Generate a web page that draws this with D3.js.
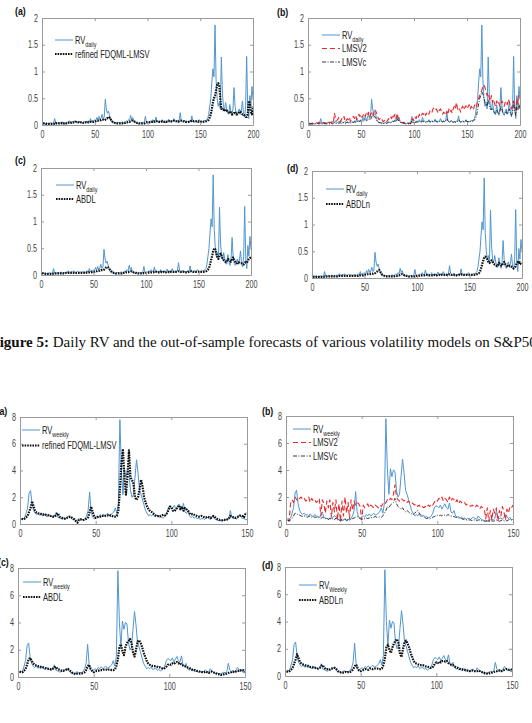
<!DOCTYPE html>
<html lang="en">
<head>
  <meta charset="UTF-8">
  <title>Daily and weekly RV forecasts</title>
  <script src="https://d3js.org/d3.v7.min.js"></script>
  <style>
    body { margin: 0; background: #fff; }
    svg { display: block; }
    .tick text { font-family: "Liberation Sans", Arial, sans-serif; font-size: 10px; fill: #444; }
    .legend text { font-family: "Liberation Sans", Arial, sans-serif; font-size: 10.5px; fill: #222; }
    .plabel { font-family: "Liberation Sans", Arial, sans-serif; font-size: 11px; font-weight: bold; fill: #111; }
  </style>
</head>
<body>
<script>
// ---- daily data (200 out-of-sample days) ----
const rvDaily = [
  0.04,0.03,0.03,0.04,0.03,0.02,0.03,0.04,0.03,0.03,
  0.04,0.12,0.03,0.02,0.04,0.05,0.03,0.04,0.06,0.03,
  0.04,0.05,0.03,0.06,0.04,0.08,0.05,0.04,0.07,0.05,
  0.08,0.06,0.04,0.05,0.07,0.04,0.06,0.05,0.04,0.07,
  0.05,0.06,0.04,0.08,0.05,0.12,0.06,0.09,0.07,0.1,
  0.08,0.14,0.09,0.16,0.1,0.13,0.2,0.12,0.15,0.48,
  0.3,0.22,0.26,0.18,0.1,0.06,0.04,0.05,0.03,0.04,
  0.03,0.04,0.05,0.03,0.04,0.06,0.05,0.04,0.06,0.08,
  0.06,0.1,0.08,0.18,0.1,0.14,0.06,0.04,0.05,0.03,
  0.04,0.03,0.03,0.05,0.04,0.03,0.06,0.16,0.05,0.04,
  0.06,0.05,0.08,0.06,0.1,0.07,0.05,0.15,0.06,0.08,
  0.05,0.07,0.06,0.1,0.05,0.06,0.08,0.05,0.07,0.11,
  0.06,0.05,0.08,0.06,0.12,0.07,0.05,0.08,0.06,0.09,
  0.23,0.08,0.06,0.05,0.09,0.06,0.05,0.07,0.05,0.08,
  0.06,0.17,0.07,0.05,0.06,0.08,0.05,0.06,0.1,0.07,
  0.05,0.07,0.06,0.09,0.07,0.1,0.12,0.2,0.35,0.5,
  0.8,1.05,0.9,1.87,0.85,0.5,0.35,0.42,0.3,1.27,
  0.6,0.35,0.28,0.42,0.3,0.22,0.2,0.38,0.25,0.18,
  0.3,0.7,0.35,0.22,0.18,0.25,0.3,0.2,0.28,0.45,
  0.22,0.15,0.35,1.28,0.3,0.12,0.55,0.35,0.72,0.5
];
const fdqmlDaily = [
  0.03,0.03,0.03,0.02,0.02,0.02,0.02,0.02,0.02,0.02,
  0.02,0.03,0.04,0.03,0.03,0.03,0.03,0.03,0.04,0.03,
  0.03,0.04,0.03,0.04,0.04,0.05,0.05,0.04,0.05,0.05,
  0.05,0.06,0.05,0.05,0.05,0.04,0.05,0.05,0.04,0.05,
  0.05,0.05,0.04,0.05,0.05,0.06,0.06,0.06,0.06,0.07,
  0.07,0.08,0.08,0.09,0.09,0.09,0.1,0.1,0.09,0.1,
  0.12,0.13,0.12,0.14,0.11,0.08,0.06,0.05,0.04,0.03,
  0.03,0.03,0.03,0.03,0.03,0.03,0.04,0.04,0.04,0.05,
  0.05,0.06,0.06,0.07,0.08,0.08,0.07,0.06,0.05,0.04,
  0.04,0.03,0.03,0.03,0.03,0.03,0.03,0.04,0.05,0.05,
  0.05,0.05,0.06,0.06,0.06,0.07,0.06,0.07,0.07,0.07,
  0.06,0.06,0.06,0.07,0.06,0.06,0.07,0.06,0.06,0.07,
  0.07,0.06,0.07,0.07,0.08,0.07,0.07,0.07,0.06,0.07,
  0.08,0.08,0.07,0.07,0.07,0.06,0.06,0.06,0.06,0.06,
  0.07,0.08,0.08,0.07,0.07,0.07,0.06,0.06,0.07,0.07,
  0.06,0.06,0.06,0.07,0.07,0.07,0.08,0.1,0.14,0.2,
  0.3,0.42,0.5,0.55,0.65,0.75,0.78,0.75,0.5,0.3,
  0.3,0.28,0.3,0.26,0.27,0.25,0.24,0.22,0.24,0.2,
  0.2,0.22,0.25,0.2,0.2,0.22,0.24,0.25,0.22,0.2,
  0.2,0.18,0.15,0.15,0.2,0.45,0.4,0.25,0.2,0.35
];
const lmsv2Daily = [
  0.02,0.02,0.03,0.02,0.03,0.02,0.03,0.04,0.03,0.05,
  0.04,0.06,0.03,0.04,0.05,0.03,0.04,0.06,0.04,0.05,
  0.05,0.04,0.08,0.05,0.22,0.12,0.08,0.1,0.14,0.06,
  0.08,0.12,0.1,0.16,0.06,0.08,0.12,0.1,0.15,0.07,
  0.1,0.14,0.16,0.12,0.18,0.1,0.15,0.2,0.16,0.2,
  0.14,0.18,0.22,0.16,0.22,0.18,0.24,0.15,0.2,0.22,
  0.26,0.18,0.28,0.26,0.2,0.14,0.1,0.12,0.08,0.1,
  0.06,0.08,0.1,0.06,0.08,0.12,0.1,0.15,0.12,0.2,
  0.15,0.2,0.12,0.22,0.14,0.1,0.06,0.05,0.04,0.05,
  0.04,0.03,0.02,0.03,0.02,0.04,0.02,0.1,0.12,0.08,
  0.15,0.12,0.18,0.14,0.2,0.15,0.18,0.22,0.2,0.24,
  0.18,0.22,0.25,0.2,0.26,0.28,0.24,0.3,0.32,0.28,
  0.3,0.26,0.22,0.28,0.3,0.25,0.2,0.24,0.22,0.18,
  0.26,0.2,0.3,0.24,0.28,0.22,0.3,0.35,0.3,0.42,
  0.32,0.26,0.3,0.24,0.32,0.35,0.28,0.33,0.36,0.3,
  0.34,0.38,0.3,0.35,0.32,0.28,0.36,0.4,0.35,0.45,
  0.5,0.55,0.6,0.65,0.72,0.75,0.7,0.62,0.55,0.6,
  0.5,0.45,0.55,0.42,0.48,0.4,0.35,0.45,0.38,0.42,
  0.35,0.4,0.45,0.4,0.35,0.42,0.45,0.38,0.48,0.42,
  0.35,0.3,0.4,0.45,0.35,0.28,0.5,0.4,0.55,0.5
];
const lmsvcDaily = [
  0.02,0.02,0.02,0.02,0.02,0.02,0.02,0.02,0.03,0.02,
  0.02,0.04,0.02,0.02,0.02,0.03,0.02,0.02,0.03,0.02,
  0.02,0.03,0.02,0.03,0.05,0.03,0.03,0.04,0.03,0.04,
  0.04,0.03,0.04,0.05,0.03,0.04,0.05,0.04,0.05,0.04,
  0.04,0.05,0.05,0.06,0.05,0.07,0.05,0.06,0.07,0.08,
  0.06,0.08,0.07,0.1,0.08,0.09,0.12,0.1,0.1,0.14,
  0.2,0.15,0.16,0.12,0.08,0.06,0.05,0.04,0.04,0.03,
  0.03,0.03,0.04,0.03,0.04,0.05,0.05,0.04,0.06,0.07,
  0.06,0.08,0.06,0.12,0.08,0.09,0.06,0.04,0.04,0.03,
  0.03,0.02,0.02,0.03,0.03,0.02,0.03,0.08,0.04,0.04,
  0.05,0.05,0.06,0.05,0.07,0.06,0.05,0.08,0.06,0.07,
  0.05,0.06,0.06,0.08,0.06,0.06,0.07,0.06,0.07,0.08,
  0.07,0.06,0.07,0.06,0.08,0.07,0.06,0.07,0.06,0.08,
  0.12,0.08,0.06,0.05,0.07,0.06,0.05,0.06,0.05,0.06,
  0.06,0.1,0.07,0.06,0.06,0.07,0.06,0.07,0.08,0.07,
  0.06,0.07,0.06,0.08,0.07,0.08,0.09,0.12,0.18,0.28,
  0.4,0.5,0.55,0.62,0.58,0.5,0.42,0.4,0.35,0.48,
  0.38,0.3,0.28,0.32,0.26,0.22,0.2,0.28,0.24,0.2,
  0.24,0.35,0.28,0.22,0.2,0.22,0.25,0.2,0.24,0.3,
  0.22,0.18,0.24,0.42,0.28,0.18,0.35,0.28,0.4,0.3
];
const abdlDaily = [
  0.03,0.03,0.02,0.02,0.02,0.02,0.02,0.02,0.02,0.02,
  0.02,0.03,0.03,0.03,0.03,0.03,0.03,0.03,0.03,0.03,
  0.03,0.03,0.03,0.04,0.04,0.04,0.04,0.04,0.04,0.04,
  0.04,0.04,0.04,0.04,0.04,0.04,0.04,0.04,0.04,0.04,
  0.04,0.04,0.04,0.05,0.05,0.05,0.05,0.05,0.06,0.06,
  0.06,0.07,0.07,0.08,0.08,0.08,0.09,0.09,0.09,0.1,
  0.12,0.14,0.15,0.14,0.12,0.09,0.07,0.05,0.04,0.04,
  0.03,0.03,0.03,0.03,0.03,0.03,0.03,0.04,0.04,0.04,
  0.05,0.05,0.05,0.06,0.06,0.07,0.06,0.05,0.05,0.04,
  0.04,0.03,0.03,0.03,0.03,0.03,0.03,0.04,0.04,0.04,
  0.04,0.04,0.05,0.05,0.05,0.05,0.05,0.06,0.06,0.06,
  0.05,0.05,0.05,0.06,0.05,0.05,0.06,0.05,0.05,0.06,
  0.06,0.05,0.06,0.06,0.06,0.06,0.06,0.06,0.06,0.06,
  0.07,0.07,0.06,0.06,0.06,0.06,0.05,0.05,0.05,0.06,
  0.06,0.07,0.07,0.06,0.06,0.06,0.06,0.06,0.06,0.06,
  0.06,0.06,0.06,0.06,0.06,0.07,0.07,0.08,0.1,0.13,
  0.2,0.28,0.36,0.45,0.5,0.48,0.4,0.33,0.3,0.36,
  0.4,0.36,0.3,0.28,0.26,0.24,0.25,0.3,0.28,0.26,
  0.25,0.3,0.33,0.28,0.25,0.22,0.22,0.24,0.23,0.22,
  0.22,0.2,0.2,0.23,0.24,0.23,0.26,0.3,0.32,0.32
];
const abdlnDaily = [
  0.03,0.02,0.02,0.02,0.02,0.02,0.02,0.02,0.02,0.02,
  0.02,0.03,0.03,0.03,0.03,0.03,0.03,0.03,0.03,0.03,
  0.03,0.03,0.03,0.03,0.04,0.04,0.04,0.04,0.04,0.04,
  0.04,0.04,0.04,0.04,0.04,0.04,0.04,0.04,0.04,0.04,
  0.04,0.04,0.04,0.04,0.05,0.05,0.05,0.05,0.05,0.06,
  0.06,0.06,0.07,0.07,0.07,0.08,0.08,0.08,0.09,0.09,
  0.11,0.12,0.14,0.15,0.12,0.09,0.06,0.05,0.04,0.03,
  0.03,0.03,0.03,0.03,0.03,0.03,0.03,0.03,0.04,0.04,
  0.04,0.05,0.05,0.06,0.07,0.07,0.06,0.05,0.05,0.04,
  0.04,0.03,0.03,0.03,0.03,0.03,0.03,0.03,0.04,0.04,
  0.04,0.04,0.05,0.05,0.05,0.05,0.05,0.06,0.06,0.05,
  0.05,0.05,0.05,0.05,0.05,0.05,0.06,0.05,0.05,0.06,
  0.06,0.05,0.06,0.06,0.06,0.06,0.06,0.06,0.05,0.06,
  0.07,0.07,0.06,0.06,0.06,0.05,0.05,0.05,0.05,0.06,
  0.06,0.07,0.06,0.06,0.06,0.06,0.06,0.06,0.06,0.06,
  0.06,0.06,0.06,0.06,0.06,0.06,0.07,0.08,0.09,0.12,
  0.18,0.25,0.32,0.38,0.4,0.38,0.35,0.3,0.28,0.3,
  0.33,0.3,0.27,0.25,0.24,0.22,0.23,0.28,0.26,0.24,
  0.23,0.28,0.3,0.26,0.24,0.22,0.21,0.23,0.22,0.21,
  0.2,0.18,0.19,0.22,0.28,0.3,0.28,0.3,0.26,0.25
];

// ---- weekly data (150 out-of-sample weeks) ----
const rvWeekly = [
  0.4,0.35,0.45,0.8,1.2,2.3,2.5,1.5,1.0,0.8,
  0.7,0.8,0.65,0.7,0.6,0.75,0.6,0.55,0.7,0.6,
  0.55,0.5,0.6,0.9,0.5,0.45,0.4,0.35,0.45,0.4,
  0.5,0.6,0.55,0.4,0.3,0.35,0.25,0.3,0.4,0.3,
  0.35,0.3,0.4,0.6,1.0,2.4,0.9,0.5,0.4,0.55,
  0.6,0.5,0.7,0.6,0.75,0.6,0.7,0.8,0.65,0.7,
  0.8,0.9,1.2,0.8,1.5,7.8,4.0,2.2,4.1,3.5,
  4.0,3.9,2.5,2.0,2.2,3.5,4.8,3.8,2.5,2.2,
  1.8,1.4,1.0,0.8,0.6,0.7,0.6,0.75,0.55,0.6,
  0.65,0.5,0.55,0.45,0.5,0.6,0.8,1.2,1.35,1.3,
  1.2,1.4,1.1,1.3,1.5,1.2,1.1,1.55,0.9,0.8,
  1.0,0.6,0.5,0.55,0.45,0.5,0.4,0.45,0.35,0.4,
  0.4,0.35,0.45,0.5,0.4,0.35,0.6,0.45,0.35,0.3,
  0.25,0.3,0.2,0.25,0.3,0.35,0.3,0.4,1.0,0.5,
  0.4,0.45,0.35,0.5,0.7,0.55,0.4,0.5,0.3,0.35
];
const fdqmlWeekly = [
  0.4,0.35,0.4,0.5,0.6,0.9,1.2,1.7,1.3,1.0,
  0.85,0.8,0.8,0.75,0.7,0.75,0.7,0.65,0.65,0.6,
  0.6,0.55,0.55,0.7,0.8,0.55,0.5,0.45,0.4,0.4,
  0.45,0.5,0.55,0.5,0.4,0.35,0.2,0.1,0.3,0.35,
  0.3,0.3,0.35,0.4,0.5,0.9,1.3,0.9,0.6,0.45,
  0.5,0.55,0.55,0.6,0.6,0.6,0.65,0.65,0.6,0.65,
  0.6,0.55,0.55,0.6,1.0,2.5,4.5,5.6,3.5,2.2,
  3.5,5.5,3.5,3.3,3.0,2.0,1.8,2.0,2.6,3.3,
  2.8,2.0,1.6,1.3,1.1,0.95,0.9,0.8,0.7,0.6,
  0.6,0.55,0.6,0.65,0.7,0.65,0.8,1.0,1.3,1.25,
  1.0,0.95,1.1,1.2,1.4,1.1,1.3,1.0,1.2,1.1,
  1.0,0.8,0.7,0.75,0.7,0.65,0.6,0.55,0.55,0.6,
  0.55,0.5,0.5,0.55,0.5,0.45,0.55,0.6,0.5,0.4,
  0.35,0.3,0.3,0.28,0.3,0.35,0.35,0.4,0.6,0.55,
  0.5,0.45,0.5,0.55,0.6,0.65,0.6,0.5,0.75,0.8
];
const lmsv2Weekly = [
  0.3,0.2,1.5,1.8,1.6,2.0,1.8,1.7,1.9,2.0,
  1.8,1.9,1.7,1.8,2.0,1.6,1.9,1.7,1.8,1.6,
  1.7,1.9,0.6,1.8,1.5,0.8,1.7,1.2,1.8,0.5,
  1.6,0.9,1.8,0.3,1.5,0.2,1.7,0.6,2.0,0.8,
  1.6,0.4,1.8,1.0,1.7,1.4,1.6,1.5,1.3,0.3,
  1.4,1.2,1.3,1.5,1.2,1.4,1.3,1.2,1.4,1.3,
  1.2,1.4,1.3,1.5,1.4,1.6,1.8,1.7,1.9,1.8,
  2.2,2.9,2.0,1.8,1.7,1.9,1.8,1.7,1.8,1.6,
  1.7,1.5,1.6,1.5,1.4,1.5,1.3,1.4,1.2,1.3,
  1.2,1.3,1.2,1.4,1.3,1.5,1.4,1.6,1.8,1.7,
  1.9,1.8,2.0,1.7,1.9,1.8,1.6,2.0,1.7,1.9,
  1.8,1.6,1.8,1.5,1.7,1.6,1.5,1.6,1.4,1.5,
  1.4,1.3,1.4,1.3,1.2,1.4,1.3,1.1,1.3,1.2,
  1.1,0.4,1.2,0.2,1.0,0.3,1.1,0.8,1.2,0.2,
  1.0,0.6,1.3,0.9,0.3,1.1,0.8,1.3,1.2,1.4
];
const lmsvcWeekly = [
  0.3,0.25,0.3,0.4,0.6,0.8,0.75,0.7,0.65,0.6,
  0.55,0.6,0.55,0.5,0.55,0.6,0.5,0.55,0.5,0.5,
  0.45,0.5,0.4,0.5,0.45,0.4,0.45,0.35,0.4,0.35,
  0.4,0.3,0.45,0.3,0.35,0.2,0.4,0.3,0.35,0.25,
  0.3,0.3,0.35,0.4,0.45,0.5,0.55,0.5,0.4,0.35,
  0.35,0.4,0.45,0.4,0.45,0.5,0.45,0.5,0.55,0.5,
  0.5,0.55,0.5,0.6,0.8,1.0,1.3,1.2,1.4,1.5,
  1.6,1.9,1.5,1.3,1.2,1.1,1.2,1.0,0.9,1.0,
  0.9,0.8,0.75,0.7,0.8,0.9,1.0,0.8,0.7,0.6,
  0.5,0.45,0.4,0.45,0.4,0.45,0.5,0.55,0.6,0.65,
  0.6,0.65,0.6,0.7,0.65,0.6,0.7,0.65,0.6,0.55,
  0.55,0.5,0.5,0.45,0.4,0.4,0.35,0.35,0.3,0.3,
  0.3,0.3,0.25,0.3,0.3,0.25,0.3,0.3,0.25,0.25,
  0.2,0.2,0.25,0.2,0.2,0.25,0.2,0.25,0.3,0.25,
  0.2,0.25,0.3,0.25,0.2,0.25,0.3,0.35,0.3,0.3
];
const abdlWeekly = [
  0.4,0.35,0.35,0.45,0.6,0.9,1.3,1.4,1.2,1.0,
  0.9,0.85,0.8,0.8,0.75,0.7,0.7,0.65,0.65,0.6,
  0.6,0.55,0.6,0.7,0.75,0.6,0.55,0.5,0.45,0.45,
  0.5,0.55,0.6,0.5,0.4,0.3,0.25,0.2,0.25,0.25,
  0.25,0.25,0.3,0.35,0.5,0.8,0.9,0.6,0.45,0.35,
  0.4,0.45,0.45,0.5,0.5,0.5,0.55,0.55,0.5,0.55,
  0.55,0.5,0.5,0.55,0.8,1.3,2.2,2.4,1.9,1.6,
  2.2,2.5,2.6,2.8,2.5,1.8,1.5,2.0,2.6,2.7,
  2.5,2.2,1.8,1.5,1.2,1.0,0.9,0.85,0.8,0.8,
  0.8,0.75,0.7,0.7,0.65,0.6,0.65,0.75,0.9,0.95,
  0.9,1.0,0.95,1.05,1.1,1.0,1.05,0.9,0.85,0.8,
  0.75,0.7,0.7,0.6,0.55,0.5,0.5,0.45,0.45,0.4,
  0.4,0.35,0.35,0.4,0.35,0.3,0.35,0.4,0.35,0.3,
  0.25,0.2,0.2,0.15,0.15,0.2,0.25,0.25,0.3,0.35,
  0.35,0.4,0.35,0.4,0.45,0.45,0.5,0.45,0.5,0.4
];
const abdlnWeekly = [
  0.35,0.3,0.35,0.45,0.6,0.9,1.2,1.6,1.3,1.0,
  0.9,0.85,0.8,0.75,0.75,0.7,0.65,0.65,0.6,0.6,
  0.55,0.55,0.6,0.75,0.8,0.6,0.5,0.5,0.45,0.5,
  0.55,0.6,0.6,0.5,0.35,0.3,0.25,0.25,0.25,0.3,
  0.25,0.3,0.3,0.35,0.5,0.7,0.85,0.55,0.4,0.35,
  0.4,0.45,0.5,0.5,0.45,0.55,0.55,0.5,0.55,0.55,
  0.55,0.5,0.5,0.55,0.8,1.3,2.1,2.3,1.9,1.7,
  2.1,2.4,2.6,2.7,2.4,1.6,1.4,2.0,2.5,2.6,
  2.4,2.1,1.7,1.4,1.1,0.95,0.9,0.85,0.8,0.8,
  0.8,0.75,0.7,0.7,0.65,0.6,0.6,0.7,0.9,1.0,
  0.95,1.05,1.0,1.1,1.1,1.05,1.1,0.95,0.9,0.8,
  0.8,0.7,0.65,0.6,0.55,0.5,0.5,0.45,0.45,0.4,
  0.4,0.35,0.4,0.4,0.35,0.35,0.35,0.4,0.35,0.3,
  0.25,0.2,0.2,0.15,0.2,0.2,0.25,0.3,0.35,0.35,
  0.4,0.4,0.35,0.4,0.45,0.5,0.5,0.45,0.5,0.45
];

const dailyXTicks = [0, 50, 100, 150, 200];
const dailyYTicks = [0, 0.5, 1, 1.5, 2];
const weeklyXTicks = [0, 50, 100, 150];
const weeklyYTicks = [0, 2, 4, 6, 8];

const captionBold = "Figure 5:";
const captionRest = " Daily RV and the out-of-sample forecasts of various volatility models on S&P500";

// line styles
const styles = {
  rv:    { color: "#5096d0", width: 1,   dash: null },
  fc:    { color: "#111",    width: 2.2, dash: "1.6,1" },
  lmsv2: { color: "#e8282c", width: 1.1, dash: "5,3" },
  lmsvc: { color: "#222",    width: 0.9, dash: "4,1.5,1,1.5" }
};

// chart text in the source figure is narrow, squeeze it horizontally
const squeeze = 0.72;

const svg = d3.select("body").append("svg")
  .attr("width", 532)
  .attr("height", 723);

let clipId = 0;

function drawPanel(p) {
  const x = d3.scaleLinear().domain([0, p.xmax]).range([p.x0, p.x1]);
  const y = d3.scaleLinear().domain([0, p.ymax]).range([p.y1, p.y0]);
  const g = svg.append("g");

  const id = "clip" + (clipId++);
  g.append("clipPath").attr("id", id).append("rect")
    .attr("x", p.x0).attr("y", p.y0 - 1)
    .attr("width", p.x1 - p.x0).attr("height", p.y1 - p.y0 + 1);

  const lines = g.append("g").attr("clip-path", `url(#${id})`);
  p.series.forEach(s => {
    const st = styles[s.style];
    const line = d3.line().x((d, i) => x(i + 1)).y(d => y(d));
    lines.append("path")
      .datum(s.values)
      .attr("d", line)
      .attr("fill", "none")
      .attr("stroke", st.color)
      .attr("stroke-width", st.width)
      .attr("stroke-dasharray", st.dash)
      .attr("stroke-linejoin", "round");
  });

  // axes, ticks pointing inward on all four sides
  const axisCol = "#9a9a9a";
  const fmt = d3.format("~g");
  const bottom = g.append("g").attr("transform", `translate(0,${p.y1})`)
    .call(d3.axisBottom(x).tickValues(p.xticks).tickFormat(fmt).tickSizeInner(-3).tickSizeOuter(0).tickPadding(6));
  const left = g.append("g").attr("transform", `translate(${p.x0},0)`)
    .call(d3.axisLeft(y).tickValues(p.yticks).tickFormat(fmt).tickSizeInner(-3).tickSizeOuter(0).tickPadding(5.5));
  const top = g.append("g").attr("transform", `translate(0,${p.y0})`)
    .call(d3.axisTop(x).tickValues(p.xticks).tickSizeInner(-3).tickSizeOuter(0).tickFormat(""));
  const right = g.append("g").attr("transform", `translate(${p.x1},0)`)
    .call(d3.axisRight(y).tickValues(p.yticks).tickSizeInner(-3).tickSizeOuter(0).tickFormat(""));
  [bottom, left, top, right].forEach(a => {
    a.select(".domain").attr("stroke", axisCol);
    a.selectAll(".tick line").attr("stroke", axisCol);
  });
  bottom.selectAll(".tick text").attr("transform", `scale(${squeeze},1)`);
  left.selectAll(".tick text").attr("transform", `scale(${squeeze},1)`);

  // panel label
  g.append("text").attr("class", "plabel")
    .attr("transform", `translate(${p.label[0]},${p.label[1]}) scale(0.8,1)`)
    .text(p.label[2]);

  // legend
  const lg = g.append("g").attr("class", "legend");
  p.legend.forEach((e, i) => {
    const st = styles[e.style];
    const ly = p.leg.y + i * p.leg.dy;
    lg.append("line")
      .attr("x1", p.leg.x).attr("x2", p.leg.x + p.leg.len)
      .attr("y1", ly).attr("y2", ly)
      .attr("stroke", st.color)
      .attr("stroke-width", st.width)
      .attr("stroke-dasharray", st.dash);
    const t = lg.append("text")
      .attr("transform", `translate(${p.leg.x + p.leg.len + 2},${ly + 3.8}) scale(${squeeze},1)`);
    t.append("tspan").text(e.name);
    if (e.sub) {
      t.append("tspan").attr("dy", 3).style("font-size", "7.5px").text(e.sub);
    }
  });
}

const dailyPanels = [
  { x0: 42, x1: 253, y0: 18, y1: 125, label: [15, 15, "(a)"],
    leg: { x: 55, y: 40, dy: 14, len: 18 },
    series: [{ values: rvDaily, style: "rv" }, { values: fdqmlDaily, style: "fc" }],
    legend: [{ name: "RV", sub: "daily", style: "rv" }, { name: "refined FDQML-LMSV", style: "fc" }] },
  { x0: 308, x1: 520, y0: 18, y1: 125, label: [277, 16, "(b)"],
    leg: { x: 322, y: 35, dy: 13.5, len: 18 },
    series: [{ values: rvDaily, style: "rv" }, { values: lmsv2Daily, style: "lmsv2" }, { values: lmsvcDaily, style: "lmsvc" }],
    legend: [{ name: "RV", sub: "daily", style: "rv" }, { name: "LMSV2", style: "lmsv2" }, { name: "LMSVc", style: "lmsvc" }] },
  { x0: 41, x1: 251, y0: 168, y1: 275, label: [15, 164, "(c)"],
    leg: { x: 56, y: 185, dy: 14, len: 18 },
    series: [{ values: rvDaily, style: "rv" }, { values: abdlDaily, style: "fc" }],
    legend: [{ name: "RV", sub: "daily", style: "rv" }, { name: "ABDL", style: "fc" }] },
  { x0: 312, x1: 522, y0: 171, y1: 278, label: [287, 172, "(d)"],
    leg: { x: 326, y: 189, dy: 15, len: 18 },
    series: [{ values: rvDaily, style: "rv" }, { values: abdlnDaily, style: "fc" }],
    legend: [{ name: "RV", sub: "daily", style: "rv" }, { name: "ABDLn", style: "fc" }] }
];
dailyPanels.forEach(p => drawPanel(Object.assign({ xmax: 200, ymax: 2, xticks: dailyXTicks, yticks: dailyYTicks }, p)));

const weeklyPanels = [
  { x0: 20, x1: 247, y0: 417, y1: 524, label: [-3.5, 415, "(a)"],
    leg: { x: 22, y: 430, dy: 15.5, len: 18 },
    series: [{ values: rvWeekly, style: "rv" }, { values: fdqmlWeekly, style: "fc" }],
    legend: [{ name: "RV", sub: "weekly", style: "rv" }, { name: "refined FDQML-LMSV", style: "fc" }] },
  { x0: 286, x1: 513, y0: 416, y1: 524, label: [262, 415, "(b)"],
    leg: { x: 293, y: 429, dy: 13.5, len: 18 },
    series: [{ values: rvWeekly, style: "rv" }, { values: lmsv2Weekly, style: "lmsv2" }, { values: lmsvcWeekly, style: "lmsvc" }],
    legend: [{ name: "RV", sub: "weekly", style: "rv" }, { name: "LMSV2", style: "lmsv2" }, { name: "LMSVc", style: "lmsvc" }] },
  { x0: 18, x1: 245, y0: 568, y1: 677, label: [-2, 566, "(c)"],
    leg: { x: 23, y: 582, dy: 15, len: 18 },
    series: [{ values: rvWeekly, style: "rv" }, { values: abdlWeekly, style: "fc" }],
    legend: [{ name: "RV", sub: "weekly", style: "rv" }, { name: "ABDL", style: "fc" }] },
  { x0: 285, x1: 512, y0: 567, y1: 676, label: [262, 569, "(d)"],
    leg: { x: 299, y: 585, dy: 15, len: 18 },
    series: [{ values: rvWeekly, style: "rv" }, { values: abdlnWeekly, style: "fc" }],
    legend: [{ name: "RV", sub: "Weekly", style: "rv" }, { name: "ABDLn", style: "fc" }] }
];
weeklyPanels.forEach(p => drawPanel(Object.assign({ xmax: 150, ymax: 8, xticks: weeklyXTicks, yticks: weeklyYTicks }, p)));

// caption; its first letter and last digit fall off the page edges
const capFont = "'Liberation Serif', 'Times New Roman', serif";
const cap = svg.append("text")
  .style("font-family", capFont)
  .style("font-size", "14.5px")
  .style("fill", "#111");
cap.append("tspan").style("font-weight", "bold").text(captionBold);
cap.append("tspan").text(captionRest);
const probe = svg.append("text")
  .style("font-family", capFont)
  .style("font-size", "14.5px").style("font-weight", "bold").text("F");
const fw = probe.node().getComputedTextLength();
probe.remove();
const capW = cap.node().getComputedTextLength();
const capScale = 545 / (capW - fw);
cap.attr("x", -fw)
  .attr("transform", `translate(${-fw * capScale + fw},347) scale(${capScale},1)`);
</script>
</body>
</html>
